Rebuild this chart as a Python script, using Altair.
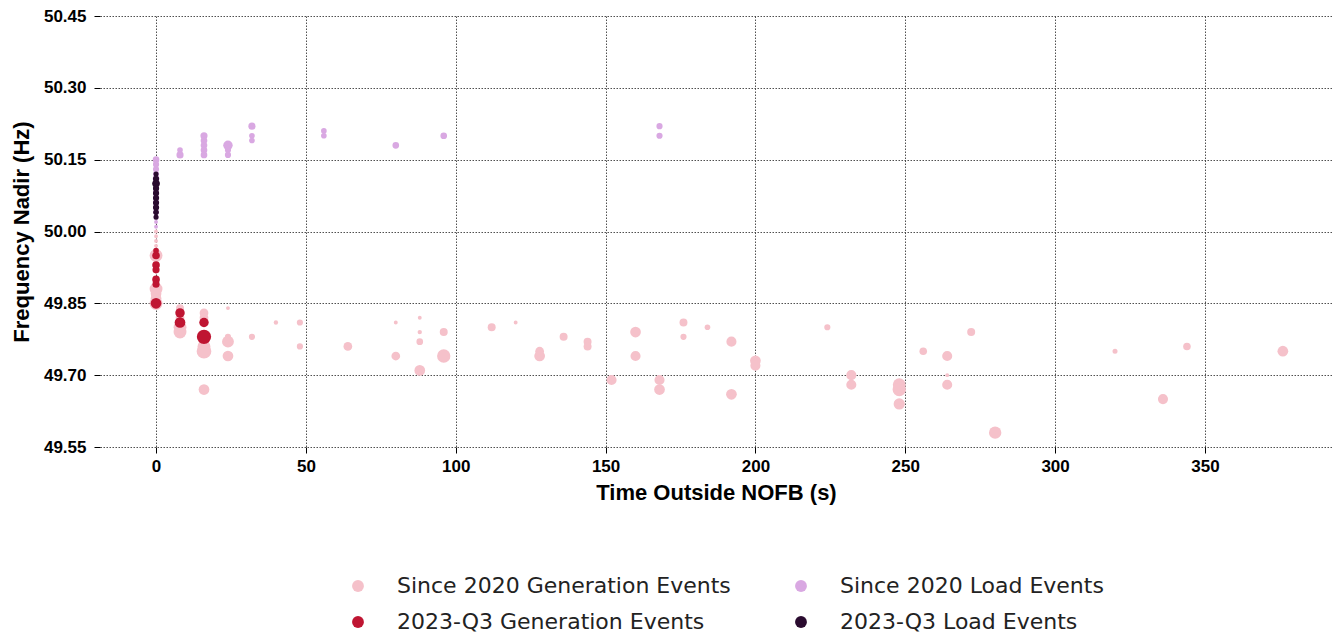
import altair as alt
import pandas as pd

# ---- data ----
series_names = [
    "Since 2020 Generation Events",
    "Since 2020 Load Events",
    "2023-Q3 Generation Events",
    "2023-Q3 Load Events",
]
series_colors = ["#f5c1ca", "#d9a8e2", "#bf1532", "#2a0b2f"]

# Since 2020 generation events
gen20_t = [0, 0, 0, 0, 0, 0, 0, 0, 0, 0, 0,
           8, 8, 8, 8,
           16, 16, 16, 16, 16,
           24, 24, 24, 24,
           32, 40, 48, 48, 64, 80, 80,
           88, 88, 88, 88, 96, 96, 112, 120, 128, 128, 136, 144, 144,
           152, 160, 160, 168, 168, 176, 176, 184, 192, 192, 200, 200,
           224, 232, 232, 248, 248, 248, 256, 264, 264, 264, 272, 280,
           320, 336, 344, 376]
gen20_f = [50.00, 49.99, 49.98, 49.97, 49.95, 49.93, 49.90, 49.88, 49.87, 49.86, 49.85,
           49.84, 49.82, 49.80, 49.79,
           49.83, 49.82, 49.76, 49.75, 49.67,
           49.84, 49.78, 49.77, 49.74,
           49.78, 49.81, 49.81, 49.76, 49.76, 49.81, 49.74,
           49.82, 49.79, 49.77, 49.71, 49.79, 49.74, 49.80, 49.81, 49.75, 49.74, 49.78, 49.77, 49.76,
           49.69, 49.79, 49.74, 49.69, 49.67, 49.81, 49.78, 49.80, 49.77, 49.66, 49.73, 49.72,
           49.80, 49.70, 49.68, 49.68, 49.67, 49.64, 49.75, 49.74, 49.70, 49.68, 49.79, 49.58,
           49.75, 49.65, 49.76, 49.75]
gen20_mw = [120, 120, 120, 120, 1300, 350, 350, 1300, 900, 900, 1300,
            500, 600, 1300, 1300,
            600, 600, 1300, 1700, 900,
            120, 300, 1100, 900,
            300, 150, 300, 300, 600, 120, 600,
            120, 150, 350, 900, 500, 1400, 500, 120, 600, 900, 500, 500, 500,
            800, 900, 800, 800, 900, 500, 300, 250, 800, 900, 900, 800,
            300, 800, 800, 1300, 1400, 1000, 450, 800, 120, 800, 500, 1200,
            200, 800, 450, 900]

# Since 2020 load events
load20_t = [0] * 15 + [8, 8, 16, 16, 16, 16, 16, 24, 24, 24, 32, 32, 32, 56, 56, 80, 96, 168, 168]
load20_f = [50.15, 50.14, 50.13, 50.12, 50.11, 50.10, 50.09, 50.08, 50.07, 50.06,
            50.05, 50.04, 50.03, 50.02, 50.01,
            50.17, 50.16, 50.20, 50.19, 50.18, 50.17, 50.16, 50.18, 50.17, 50.16,
            50.22, 50.20, 50.19, 50.21, 50.20, 50.18, 50.20, 50.22, 50.20]
load20_mw = [350, 300, 300, 300, 350, 300, 300, 300, 300, 300,
             300, 250, 200, 120, 120,
             250, 400, 400, 350, 350, 350, 350, 700, 300, 300,
             400, 250, 250, 250, 250, 350, 350, 300, 300]

# 2023-Q3 generation events
gen23_t = [0, 0, 0, 0, 0, 0, 0, 8, 8, 16, 16]
gen23_f = [49.96, 49.95, 49.93, 49.92, 49.90, 49.89, 49.85, 49.83, 49.81, 49.81, 49.78]
gen23_mw = [250, 450, 450, 400, 450, 400, 900, 700, 900, 700, 1600]

# 2023-Q3 load events
load23_t = [0] * 11
load23_f = [50.12, 50.11, 50.10, 50.10, 50.09, 50.08, 50.07, 50.06, 50.05, 50.04, 50.03]
load23_mw = [200, 300, 450, 350, 300, 300, 300, 300, 300, 250, 200]

# y-axis ticks and x-axis ticks
y_ticks = [49.55, 49.70, 49.85, 50.00, 50.15, 50.30, 50.45]
x_ticks = [0, 50, 100, 150, 200, 250, 300, 350]

frames = []
for name, t, f, mw in [
    (series_names[0], gen20_t, gen20_f, gen20_mw),
    (series_names[1], load20_t, load20_f, load20_mw),
    (series_names[2], gen23_t, gen23_f, gen23_mw),
    (series_names[3], load23_t, load23_f, load23_mw),
]:
    frames.append(pd.DataFrame({"series": name, "t": t, "f": f, "mw": mw}))
df = pd.concat(frames, ignore_index=True)
df["order"] = df["series"].map({n: i for i, n in enumerate(series_names)})

tick_font = "Liberation Sans"

chart = (
    alt.Chart(df)
    .mark_circle(opacity=1, stroke=None)
    .encode(
        x=alt.X(
            "t:Q",
            title="Time Outside NOFB (s)",
            scale=alt.Scale(domain=[-18.7, 392.4], nice=False, zero=False),
            axis=alt.Axis(values=x_ticks, format="d", labelPadding=5, titlePadding=8),
        ),
        y=alt.Y(
            "f:Q",
            title="Frequency Nadir (Hz)",
            scale=alt.Scale(domain=[49.55, 50.45], nice=False, zero=False),
            axis=alt.Axis(values=y_ticks, format=".2f", labelPadding=8, titlePadding=10),
        ),
        color=alt.Color(
            "series:N",
            scale=alt.Scale(domain=series_names, range=series_colors),
            legend=alt.Legend(
                title=None,
                orient="none",
                legendX=247,
                legendY=559,
                columns=2,
                direction="horizontal",
                symbolType="circle",
                symbolSize=140,
                symbolStrokeWidth=0,
                labelFont="DejaVu Sans",
                labelFontSize=22,
                labelColor="#222222",
                labelOffset=28,
                labelLimit=500,
                columnPadding=59,
                rowPadding=14,
                padding=0,
            ),
        ),
        size=alt.Size(
            "mw:Q",
            scale=alt.Scale(domain=[0, 2000], range=[0, 255], zero=True),
            legend=None,
        ),
        order=alt.Order("order:Q"),
    )
    .properties(
        width=1232,
        height=431,
        autosize=alt.AutoSizeParams(type="none"),
        padding={"left": 92, "top": 8, "right": 0, "bottom": 186},
    )
    .configure_view(stroke=None)
    .configure_axis(
        domain=False,
        grid=True,
        gridColor="#3c3c3c",
        gridDash=[1.5, 1.5],
        gridWidth=0.9,
        gridOpacity=1,
        ticks=True,
        tickColor="#000000",
        tickSize=6,
        tickWidth=1,
        labelFont=tick_font,
        labelFontSize=17,
        labelFontWeight="bold",
        labelColor="#000000",
        titleFont=tick_font,
        titleFontSize=22,
        titleFontWeight="bold",
        titleColor="#000000",
    )
)

chart.save("out.html", embed_options={"renderer": "svg", "actions": False})
